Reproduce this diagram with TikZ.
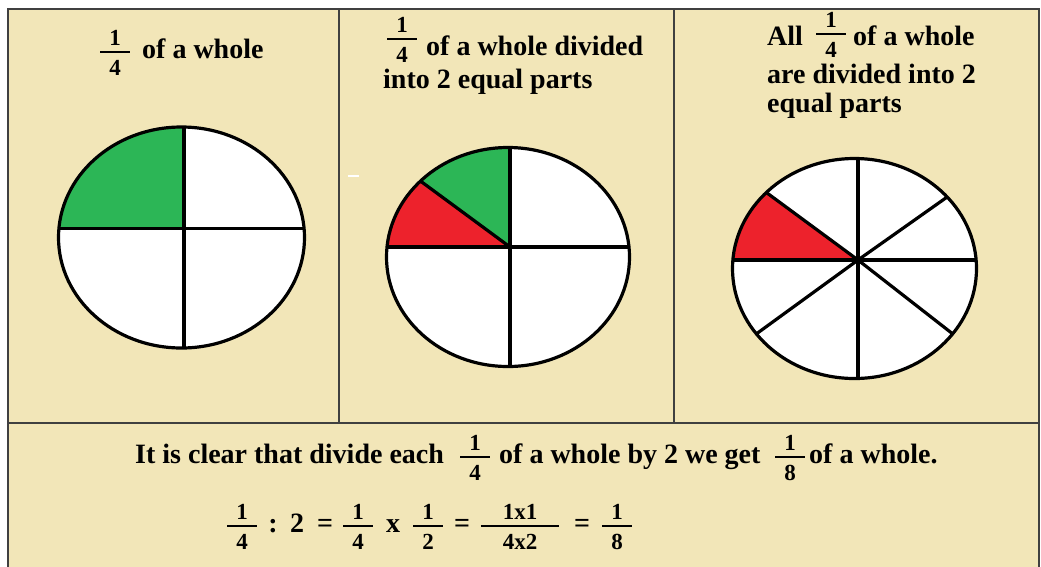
\documentclass[tikz,border=0pt]{standalone}
\usepackage{fontspec}
\setmainfont{Liberation Serif}
\usepackage{amsmath}
\usetikzlibrary{positioning}
\definecolor{panelcream}{RGB}{242,230,184}
\definecolor{piegreen}{RGB}{44,182,86}
\definecolor{piered}{RGB}{237,34,44}
\definecolor{framegray}{RGB}{64,64,64}
\newcommand{\fracfont}{\fontsize{23}{23}\selectfont}
\newcommand{\fr}[3][9pt]{$\genfrac{}{}{1.7pt}{0}{\mbox{\hspace{#1}\raisebox{-5pt}{\fracfont #2}\hspace{#1}}}{\mbox{\raisebox{-0.5pt}{\fracfont #3}}}$}
\tikzset{
    frameline/.style={line width=1.8pt,draw=framegray},
    pieline/.style={line width=3.2pt,draw=black,line cap=round},
    txt/.style={anchor=base west,inner sep=0pt,font=\bfseries\fontsize{28}{30}\selectfont},
    frnode/.style={anchor=base,inner sep=0pt,font=\bfseries\fontsize{28}{30}\selectfont}
}

\begin{document}
\begin{tikzpicture}[x=1pt,y=-1pt]
  \useasboundingbox (0,0) rectangle (1041,566);
  \clip (0,0) rectangle (1041,566);

  % panels
  \fill[panelcream] (8,9) rectangle (1039,580);
  \draw[frameline] (8,580) -- (8,9) -- (1039,9) -- (1039,580);
  \draw[frameline] (8,423) -- (1039,423);
  \draw[frameline] (339,9) -- (339,423);
  \draw[frameline] (674,9) -- (674,423);
  \draw[white,line width=1.5pt] (348,176) -- (359,176);

  \coordinate (E1) at (181.5,237.5);
  \coordinate (O1) at (184,228.5);
  \coordinate (E2) at (508,257);
  \coordinate (O2) at (510,247);
  \coordinate (E3) at (854.5,268.5);
  \coordinate (O3) at (858,260);

  % pie 1
  \fill[white] (E1) ellipse [x radius=123, y radius=110.5];
  \begin{scope}
    \clip (E1) ellipse [x radius=123, y radius=110.5];
    \fill[piegreen] (O1) rectangle +(-200,-200);
    \foreach \dx/\dy in {-300/0,300/0,0/-300,0/300}{
      \draw[pieline] (O1) -- +(\dx,\dy);
    }
  \end{scope}
  \draw[pieline] (E1) ellipse [x radius=123, y radius=110.5];

  % pie 2
  \fill[white] (E2) ellipse [x radius=121.5, y radius=109.5];
  \begin{scope}
    \clip (E2) ellipse [x radius=121.5, y radius=109.5];
    \fill[piered] (O2) -- +(-300,0) -- +(-300,-221) -- cycle;
    \fill[piegreen] (O2) -- +(-300,-221) -- +(0,-221) -- cycle;
    \foreach \dx/\dy in {-300/0,300/0,0/-300,0/300,-300/-221}{
      \draw[pieline] (O2) -- +(\dx,\dy);
    }
  \end{scope}
  \draw[pieline] (E2) ellipse [x radius=121.5, y radius=109.5];

  % pie 3
  \fill[white] (E3) ellipse [x radius=122, y radius=110];
  \begin{scope}
    \clip (E3) ellipse [x radius=122, y radius=110];
    \fill[piered] (O3) -- +(-300,0) -- +(-300,-221) -- cycle;
    \foreach \dx/\dy in {-300/0,300/0,0/-300,0/300,-300/-221,300/-212,-300/218,300/234}{
      \draw[pieline] (O3) -- +(\dx,\dy);
    }
  \end{scope}
  \draw[pieline] (E3) ellipse [x radius=122, y radius=110];

  % titles
  \node[frnode] (f1) at (115,58) {\fr{1}{4}};
  \node[txt] (t1) at (142,58) {of a whole};

  \node[frnode] (f2) at (402,45) {\fr{1}{4}};
  \node[txt] (t2a) at (426,55) {of a whole divided};
  \node[txt] (t2b) at (383,88) {into 2 equal parts};

  \node[txt] (t3a) at (767,45) {All};
  \node[frnode] (f3) at (831,40) {\fr{1}{4}};
  \node[txt] (t3b) at (853,45) {of a whole};
  \node[txt] (t3c) at (767,83) {are divided into 2};
  \node[txt] (t3d) at (767,112) {equal parts};

  % bottom text
  \node[txt] (b1) at (135,463) {It is clear that divide each};
  \node[frnode] (bf1) at (475,463) {\fr{1}{4}};
  \node[txt] (b2) at (499,463) {of a whole by 2 we get};
  \node[frnode] (bf2) at (790,463) {\fr{1}{8}};
  \node[txt] (b3) at (809,463) {of a whole.};

  \node[frnode] (q1) at (242,532) {\fr{1}{4}};
  \node[frnode] (q2) at (273,532) {:};
  \node[frnode] (q3) at (297,532) {2};
  \node[frnode] (q4) at (325,532) {=};
  \node[frnode] (q5) at (358,532) {\fr{1}{4}};
  \node[frnode] (q6) at (393,532) {x};
  \node[frnode] (q7) at (428,532) {\fr{1}{2}};
  \node[frnode] (q8) at (462,532) {=};
  \node[frnode] (q9) at (520,532) {\fr[22pt]{1x1}{4x2}};
  \node[frnode] (q10) at (582,532) {=};
  \node[frnode] (q11) at (617,532) {\fr{1}{8}};
\end{tikzpicture}
\end{document}
